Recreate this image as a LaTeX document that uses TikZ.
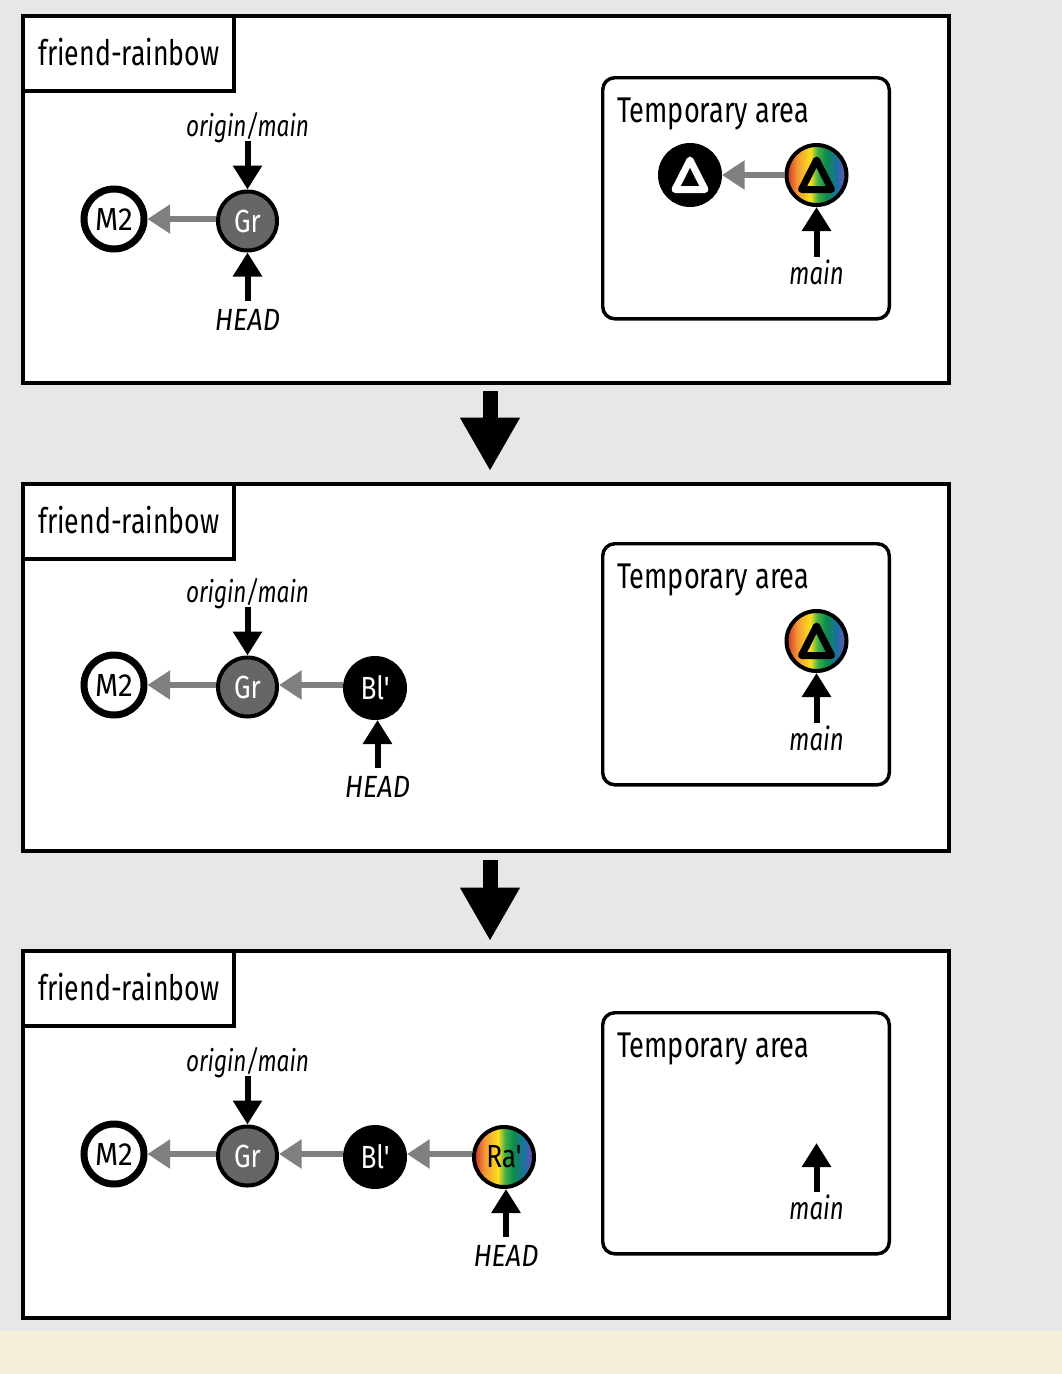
\documentclass[tikz,border=0pt]{standalone}
\usepackage{fontspec}
\setmainfont[FakeStretch=0.76]{Fira Sans}
\newfontfamily\headfont[FakeStretch=0.88]{Fira Sans}
\newfontfamily\commitfont[FakeStretch=0.82]{Fira Sans}
\newfontfamily\mergefont[FakeStretch=0.93]{Fira Sans}
\usetikzlibrary{arrows.meta}
\definecolor{pagegrey}{HTML}{E7E7E7}
\definecolor{strip}{HTML}{F5EEDB}
\definecolor{grcol}{HTML}{666666}
\definecolor{arrgrey}{HTML}{808080}
\definecolor{rbred}{HTML}{D8452B}
\definecolor{rborange}{HTML}{F39A36}
\definecolor{rbyellow}{HTML}{FBE01C}
\definecolor{rbgreena}{HTML}{3FAE49}
\definecolor{rbgreenb}{HTML}{0E8A4A}
\definecolor{rbblue}{HTML}{1B6FA8}
\definecolor{rbpurple}{HTML}{7B4FA0}
\pgfdeclarehorizontalshading{rainbow}{100bp}{
  color(0bp)=(rbred);color(27bp)=(rbred);color(34bp)=(rborange);
  color(45bp)=(rbyellow);color(51bp)=(rbgreena);color(58bp)=(rbgreenb);
  color(67bp)=(rbblue);color(74bp)=(rbpurple);color(100bp)=(rbpurple)}
\tikzset{
  panel/.style={draw=black,fill=white,line width=3pt,anchor=north west,minimum width=694.5pt,minimum height=275.25pt,inner sep=0pt},
  tabbox/.style={draw=black,fill=white,line width=3pt,anchor=north west,minimum width=158.6pt,minimum height=56.25pt,inner sep=0pt,font=\fontsize{26.3}{30}\selectfont},
  temparea/.style={draw=black,fill=white,line width=2.6pt,rounded corners=9pt,anchor=north west,minimum width=214.9pt,minimum height=180.8pt,inner sep=0pt},
  temptext/.style={anchor=west,inner sep=0pt,font=\fontsize{26.8}{30}\selectfont},
  reflabel/.style={inner sep=0pt,font=\fontsize{22.3}{26}\selectfont\itshape},
  headlabel/.style={inner sep=0pt,outer ysep=6.5pt,font=\fontsize{23}{26}\headfont\itshape},
  mainlabel/.style={inner sep=0pt,outer ysep=2.5pt,font=\fontsize{23.7}{26}\selectfont\itshape},
  commit/.style={circle,inner sep=0pt,font=\fontsize{24}{28}\commitfont},
  mtwo/.style={commit,draw=black,fill=white,line width=5.25pt,minimum size=45pt,font=\fontsize{24}{28}\mergefont},
  greencommit/.style={commit,draw=black,fill=grcol,text=white,line width=3pt,minimum size=44.25pt},
  blackcommit/.style={commit,draw=black,fill=black,text=white,line width=3pt,minimum size=45pt},
  raincommit/.style={commit,draw=black,shading=rainbow,line width=3pt,minimum size=45pt},
  parent/.style={draw=arrgrey,line width=4.5pt,-{Triangle[length=17pt,width=21pt]}},
  pointer/.style={draw=black,line width=4.5pt,-{Triangle[length=18pt,width=21pt]}},
  longtail/.style={shorten <=-2pt},
  bigarrow/.style={draw=black,line width=11.25pt,-{Triangle[length=40pt,width=42pt]}},
  whitetri/.style={draw=white,line width=5.25pt,line join=round},
  blacktri/.style={draw=black,line width=5.25pt,line join=round},
}
\begin{document}
\begin{tikzpicture}[x=0.75pt,y=-0.75pt]
\useasboundingbox (0,0) rectangle (1062,1374);
\fill[pagegrey] (0,0) rectangle (1062,1374);
\fill[strip] (0,1331) rectangle (1062,1374);

% Panel 1
\node[panel] (p1) at (21,14) {};
\node[tabbox] (l1) at (21,14) {\raisebox{2.6pt}{friend-rainbow}};
\node[temparea] (t1) at (601,76) {};
\node[temptext] (tt1) at (617,114) {Temporary area};
\node[mtwo] (m1) at (114,219) {M2};
\node[greencommit] (g1) at (247.5,221) {Gr};
\node[reflabel] (o1) at (247.5,128) {origin/main};
\node[headlabel] (h1) at (247.5,320) {HEAD};
\draw[parent] (g1.west |- m1) -- (m1.east);
\draw[pointer,longtail] (o1.south) -- (g1.north);
\draw[pointer] (h1.north) -- (g1.south);
\node[blackcommit] (b1) at (690,175) {};
\node[raincommit] (r1) at (816.5,175) {};
\draw[whitetri] (690,160) -- (705,189.5) -- (675,189.5) -- cycle;
\draw[blacktri] (816.5,160) -- (831.5,189.5) -- (801.5,189.5) -- cycle;
\draw[parent] (r1.west) -- (b1.east);
\node[mainlabel] (a1) at (816.5,272.5) {main};
\draw[pointer] (a1.north) -- (r1.south);

\coordinate (s1) at (490,391);
\coordinate (e1) at (490,471);
\draw[bigarrow] (s1) -- (e1);

% Panel 2
\node[panel] (p2) at (21,482) {};
\node[tabbox] (l2) at (21,482) {\raisebox{2.6pt}{friend-rainbow}};
\node[temparea] (t2) at (601,542) {};
\node[temptext] (tt2) at (617,580) {Temporary area};
\node[mtwo] (m2) at (114,685) {M2};
\node[greencommit] (g2) at (247.5,687) {Gr};
\node[blackcommit] (bl2) at (375,688) {Bl'};
\node[reflabel] (o2) at (247.5,594) {origin/main};
\node[headlabel] (h2) at (377.5,787) {HEAD};
\draw[parent] (g2.west |- m2) -- (m2.east);
\draw[parent] (bl2.west |- m2) -- (g2.east |- m2);
\draw[pointer,longtail] (o2.south) -- (g2.north);
\draw[pointer] (h2.north) -- (h2.north |- bl2.south);
\node[raincommit] (r2) at (816.5,641) {};
\draw[blacktri] (816.5,626) -- (831.5,655.5) -- (801.5,655.5) -- cycle;
\node[mainlabel] (a2) at (816.5,738.5) {main};
\draw[pointer] (a2.north) -- (r2.south);

\coordinate (s2) at (490,860);
\coordinate (e2) at (490,941);
\draw[bigarrow] (s2) -- (e2);

% Panel 3
\node[panel] (p3) at (21,949) {};
\node[tabbox] (l3) at (21,949) {\raisebox{2.6pt}{friend-rainbow}};
\node[temparea] (t3) at (601,1011) {};
\node[temptext] (tt3) at (617,1049) {Temporary area};
\node[mtwo] (m3) at (114,1154) {M2};
\node[greencommit] (g3) at (247.5,1156) {Gr};
\node[blackcommit] (bl3) at (375,1157) {Bl'};
\node[raincommit] (ra3) at (504,1157) {Ra'};
\node[reflabel] (o3) at (247.5,1063) {origin/main};
\node[headlabel] (h3) at (506,1256) {HEAD};
\draw[parent] (g3.west |- m3) -- (m3.east);
\draw[parent] (bl3.west |- m3) -- (g3.east |- m3);
\draw[parent] (ra3.west |- m3) -- (bl3.east |- m3);
\draw[pointer,longtail] (o3.south) -- (g3.north);
\draw[pointer] (h3.north) -- (h3.north |- ra3.south);
\node[mainlabel] (a3) at (816.5,1207.5) {main};
\coordinate (f3) at (816.5,1143);
\draw[pointer] (a3.north) -- (f3);
\end{tikzpicture}
\end{document}
